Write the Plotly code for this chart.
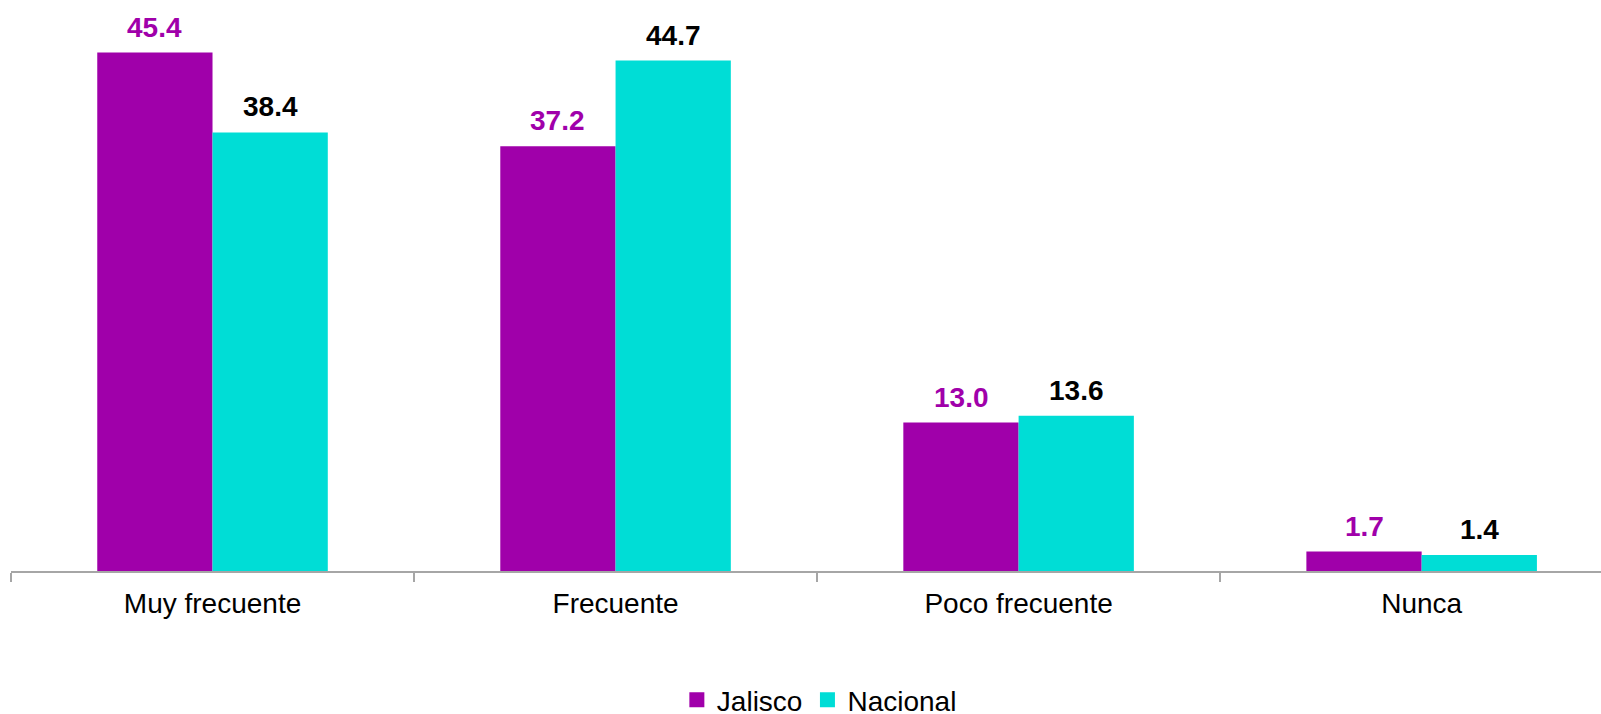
import plotly.graph_objects as go

categories = ["Muy frecuente", "Frecuente", "Poco frecuente", "Nunca"]
jalisco = [45.4, 37.2, 13.0, 1.7]
nacional = [38.4, 44.7, 13.6, 1.4]
series_names = ["Jalisco", "Nacional"]

PURPLE = "#A000AA"
CYAN = "#00DDD6"
FONT = "Liberation Sans, Arial, sans-serif"

fig = go.Figure()
fig.add_trace(go.Bar(name=series_names[0], x=categories, y=jalisco, showlegend=False,
                     marker=dict(color=PURPLE, line=dict(width=0))))
fig.add_trace(go.Bar(name=series_names[1], x=categories, y=nacional, showlegend=False,
                     marker=dict(color=CYAN, line=dict(width=0))))
# legend entries with larger square swatches
for name, col in zip(series_names, [PURPLE, CYAN]):
    fig.add_trace(go.Scatter(name=name, x=[None], y=[None], mode="markers",
                             marker=dict(symbol="square", size=15, color=col, line=dict(width=0))))

annotations = []
for cat, v in zip(categories, jalisco):
    annotations.append(dict(x=cat, y=v, text=f"{v:.1f}", showarrow=False,
                            xshift=-57.6, yanchor="bottom", yshift=8,
                            font=dict(family=FONT, size=28, color=PURPLE, weight="bold")))
for cat, v in zip(categories, nacional):
    annotations.append(dict(x=cat, y=v, text=f"{v:.1f}", showarrow=False,
                            xshift=57.6, yanchor="bottom", yshift=8,
                            font=dict(family=FONT, size=28, color="#000000", weight="bold")))

fig.update_layout(
    width=1601, height=730,
    margin=dict(l=11, r=0, t=0, b=159),
    paper_bgcolor="white", plot_bgcolor="white",
    barmode="group", bargap=0.428, bargroupgap=0,
    font=dict(family=FONT, size=28, color="#000000"),
    annotations=annotations,
    showlegend=True,
    legend=dict(orientation="h", x=0.5084, xanchor="center", y=-0.2697, yanchor="bottom",
                font=dict(family=FONT, size=28, color="#000000"),
                itemwidth=30, tracegroupgap=0, itemsizing="trace"),
    xaxis=dict(type="category", range=[-0.5, 3.445], showline=True,
               linecolor="#A6A6A6", linewidth=1.5, ticks="outside", tickson="boundaries",
               ticklen=9, tickcolor="#A6A6A6", tickwidth=1.5, showgrid=False,
               ticklabelstandoff=7,
               tickfont=dict(family=FONT, size=28, color="#000000")),
    yaxis=dict(range=[0, 50], visible=False, showgrid=False, zeroline=False),
)

fig.write_html(
    "out.html",
    config={"displayModeBar": False},
    post_script=(
        "document.documentElement.style.overflow='hidden';"
        "document.body.style.overflow='hidden';"
        "document.body.style.margin='0';"
    ),
)
